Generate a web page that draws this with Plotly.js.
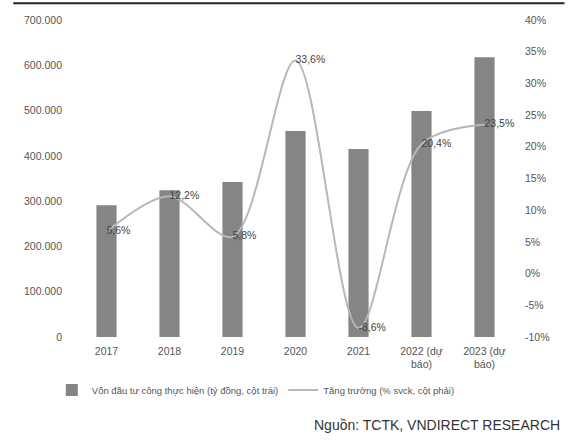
<!DOCTYPE html>
<html><head><meta charset="utf-8">
<script src="https://cdn.plot.ly/plotly-3.0.1.min.js"></script>
<style>body{margin:0;background:#fff}#c{width:573px;height:445px}</style>
</head><body><div id="c"></div>
<script>
const categories = ["2017","2018","2019","2020","2021","2022 (dự<br>báo)","2023 (dự<br>báo)"];
const investment = [291000, 324000, 342000, 455000, 415000, 499000, 618000];
const growth = [6.6, 12.2, 5.8, 33.6, -8.6, 20.4, 23.5];
const rightTickVals = [-10, -5, 0, 5, 10, 15, 20, 25, 30, 35, 40];
const rightTickText = ["-10%", "-5%", "0%", "5%", "10%", "15%", "20%", "25%", "30%", "35%", "40%"];
const barName = "Vốn đầu tư công thực hiện (tỷ đồng, cột trái)";
const lineName = "Tăng trưởng (% svck, cột phải)";
const source = "Nguồn: TCTK, VNDIRECT RESEARCH";

const font = {family:"Liberation Sans, Arial, sans-serif", size:10.5, color:"#555"};
const traces = [
  {type:"bar", x:categories, y:investment, name:barName, marker:{color:"#858585"}, yaxis:"y", hoverinfo:"skip"},
  {type:"scatter", mode:"lines+text", x:categories, y:growth, name:lineName, yaxis:"y2",
   line:{color:"#b8b8b8", width:2, shape:"spline", smoothing:0.9},
   texttemplate:"%{y:.1f}%", textposition:"middle right", textfont:{size:10.5, color:"#444"}, cliponaxis:false}
];
const layout = {
  width:573, height:445, paper_bgcolor:"#fff", plot_bgcolor:"#fff",
  separators:",.",
  font:font,
  margin:{l:75, r:57, t:20, b:108},
  bargap:0.68,
  showlegend:true,
  legend:{orientation:"h", x:0.41, xanchor:"center", y:-0.167, yanchor:"middle", font:{size:9.5, color:"#555"}, itemwidth:30, traceorder:"normal"},
  xaxis:{type:"category", tickfont:{size:10.5}, showline:false, ticks:"", showgrid:false, ticklabelstandoff:6},
  yaxis:{range:[0,700000], dtick:100000, tickformat:",d", showgrid:false, zeroline:false, showline:false, ticks:"", tickfont:{size:10.5}, ticklabelstandoff:12},
  yaxis2:{range:[-10,40], tickmode:"array", tickvals:rightTickVals, ticktext:rightTickText, overlaying:"y", side:"right", showgrid:false, zeroline:false, showline:false, ticks:"", tickfont:{size:10.5}, ticklabelstandoff:8},
  shapes:[{type:"line", xref:"paper", yref:"paper", x0:-0.14, x1:1.11, y0:1.053, y1:1.053, line:{color:"#222", width:2}}],
  annotations:[{text:source, xref:"paper", yref:"paper", x:1.105, xanchor:"right", y:-0.278, yanchor:"middle", showarrow:false, font:{size:14, color:"#333"}}]
};
Plotly.newPlot("c", traces, layout, {displayModeBar:false, staticPlot:true});
</script></body></html>
